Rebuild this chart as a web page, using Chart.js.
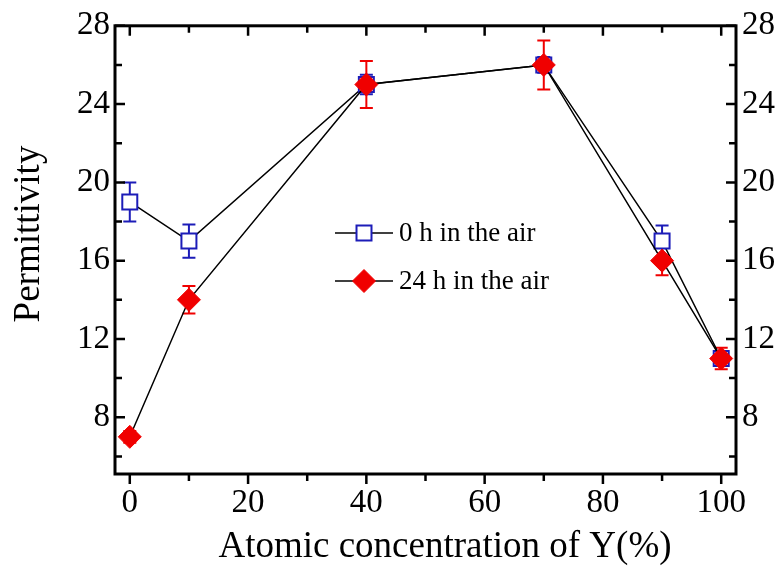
<!DOCTYPE html>
<html>
<head>
<meta charset="utf-8">
<script src="https://cdn.jsdelivr.net/npm/chart.js@4.4.1/dist/chart.umd.min.js"></script>
<style>
  html, body { margin: 0; padding: 0; background: #fff; }
  #wrap { width: 779px; height: 570px; }
</style>
</head>
<body>
<div id="wrap"><canvas id="permChart"></canvas></div>
<script>
// Permittivity vs. Y content, fresh and after 24 h in air
const concentrations = [0, 10, 40, 70, 90, 100];
const perm0h = [19, 17, 25, 26, 17, 11];
const err0h = [1.0, 0.85, 0.5, 0.4, 0.8, 0.35];
const perm24h = [7, 14, 25, 26, 16, 11];
const err24h = [0.3, 0.7, 1.2, 1.25, 0.75, 0.55];
const seriesNames = ['0 h in the air', '24 h in the air'];
const xTicks = [0, 20, 40, 60, 80, 100];
const xMinorTicks = [10, 30, 50, 70, 90];
const yTicks = [8, 12, 16, 20, 24, 28];
const yMinorTicks = [6, 10, 14, 18, 22, 26];
const xTitle = 'Atomic concentration of Y(%)';
const yTitle = 'Permittivity';

const BLUE = '#1c1cb8';
const RED = '#f00000';
const SERIF = '"Liberation Serif", "Times New Roman", serif';

function toPoints(ys) {
    return concentrations.map(function (c, i) { return { x: c, y: ys[i] }; });
}

// error bars, drawn under the markers
const errorBars = {
    id: 'errorBars',
    beforeDatasetsDraw: function (chart) {
        const ctx = chart.ctx;
        const x = chart.scales.x;
        const y = chart.scales.y;
        chart.data.datasets.forEach(function (ds) {
            ctx.save();
            ctx.strokeStyle = ds.borderColorBars;
            ctx.lineWidth = 2;
            ds.data.forEach(function (p, i) {
                const e = ds.errors[i];
                const px = x.getPixelForValue(p.x);
                const top = y.getPixelForValue(p.y + e);
                const bot = y.getPixelForValue(p.y - e);
                ctx.beginPath();
                ctx.moveTo(px, top); ctx.lineTo(px, bot);
                ctx.moveTo(px - 6.5, top); ctx.lineTo(px + 6.5, top);
                ctx.moveTo(px - 6.5, bot); ctx.lineTo(px + 6.5, bot);
                ctx.stroke();
            });
            ctx.restore();
        });
    }
};

// box frame with inward ticks (outward along the bottom), plus axis titles
const frameTicks = {
    id: 'frameTicks',
    afterDraw: function (chart) {
        const ctx = chart.ctx;
        const a = chart.chartArea;
        const x = chart.scales.x;
        const y = chart.scales.y;
        ctx.save();
        ctx.strokeStyle = '#000';
        ctx.lineWidth = 2.5;
        ctx.beginPath();
        xTicks.concat(xMinorTicks).forEach(function (v) {
            const len = xTicks.indexOf(v) >= 0 ? 10 : 7;
            const px = x.getPixelForValue(v);
            ctx.moveTo(px, a.bottom); ctx.lineTo(px, a.bottom + len);
            ctx.moveTo(px, a.top); ctx.lineTo(px, a.top + len);
        });
        yTicks.concat(yMinorTicks).forEach(function (v) {
            const len = yTicks.indexOf(v) >= 0 ? 10 : 7;
            const py = y.getPixelForValue(v);
            ctx.moveTo(a.left, py); ctx.lineTo(a.left + len, py);
            ctx.moveTo(a.right, py); ctx.lineTo(a.right - len, py);
        });
        ctx.stroke();
        ctx.lineWidth = 3;
        ctx.strokeRect(a.left, a.top, a.right - a.left, a.bottom - a.top);

        ctx.fillStyle = '#000';
        ctx.font = '37px ' + SERIF;
        ctx.textAlign = 'center';
        ctx.textBaseline = 'middle';
        ctx.fillText(xTitle, 445, 547);

        ctx.translate(29, 234);
        ctx.rotate(-Math.PI / 2);
        ctx.fillText(yTitle, 0, 0);
        ctx.restore();
    }
};

// legend inside the plot: line - marker - line, then the label
const insideLegend = {
    id: 'insideLegend',
    afterDraw: function (chart) {
        const ctx = chart.ctx;
        const rows = [
            { y: 233, ds: chart.data.datasets[0] },
            { y: 281, ds: chart.data.datasets[1] }
        ];
        ctx.save();
        rows.forEach(function (r) {
            ctx.strokeStyle = '#000';
            ctx.lineWidth = 1.5;
            ctx.beginPath();
            ctx.moveTo(335, r.y); ctx.lineTo(393, r.y);
            ctx.stroke();
            ctx.fillStyle = r.ds.pointBackgroundColor;
            ctx.strokeStyle = r.ds.pointBorderColor;
            ctx.lineWidth = r.ds.pointBorderWidth;
            Chart.helpers.drawPoint(ctx, {
                pointStyle: r.ds.pointStyle,
                radius: r.ds.pointRadius,
                rotation: 0,
                borderWidth: r.ds.pointBorderWidth
            }, 364, r.y);
            ctx.fillStyle = '#000';
            ctx.font = '27px ' + SERIF;
            ctx.textBaseline = 'middle';
            ctx.textAlign = 'left';
            ctx.fillText(r.ds.label, 399, r.y + 1);
        });
        ctx.restore();
    }
};

const ctx = document.getElementById('permChart').getContext('2d');

new Chart(ctx, {
    type: 'line',
    data: {
        datasets: [{
            label: seriesNames[0],
            data: toPoints(perm0h),
            errors: err0h,
            borderColorBars: BLUE,
            borderColor: '#000',
            borderWidth: 1.5,
            pointStyle: 'rect',
            pointRadius: 10.6,
            pointBackgroundColor: '#fff',
            pointBorderColor: BLUE,
            pointBorderWidth: 2,
            order: 2
        }, {
            label: seriesNames[1],
            data: toPoints(perm24h),
            errors: err24h,
            borderColorBars: RED,
            borderColor: '#000',
            borderWidth: 1.5,
            pointStyle: 'rectRot',
            pointRadius: 11.5,
            pointBackgroundColor: RED,
            pointBorderColor: RED,
            pointBorderWidth: 1,
            order: 1
        }]
    },
    options: {
        responsive: true,
        maintainAspectRatio: false,
        animation: false,
        events: [],
        layout: { padding: { top: 17, left: 0, right: 0, bottom: 0 } },
        plugins: {
            legend: { display: false },
            tooltip: { enabled: false }
        },
        scales: {
            x: {
                type: 'linear',
                position: 'bottom',
                min: -2.5,
                max: 102.5,
                afterBuildTicks: function (scale) {
                    scale.ticks = xTicks.map(function (v) { return { value: v }; });
                },
                afterFit: function (scale) { scale.height = 96; },
                grid: { display: false, drawTicks: false },
                border: { display: false },
                ticks: {
                    padding: 10,
                    color: '#000',
                    font: { family: SERIF, size: 33 },
                    maxRotation: 0
                }
            },
            y: {
                type: 'linear',
                position: 'left',
                min: 5.1,
                max: 28,
                afterBuildTicks: function (scale) {
                    scale.ticks = yTicks.map(function (v) { return { value: v }; });
                },
                afterFit: function (scale) { scale.width = 115; },
                grid: { display: false, drawTicks: false },
                border: { display: false },
                ticks: {
                    padding: 5,
                    color: '#000',
                    font: { family: SERIF, size: 33 }
                }
            },
            y2: {
                type: 'linear',
                position: 'right',
                min: 5.1,
                max: 28,
                afterBuildTicks: function (scale) {
                    scale.ticks = yTicks.map(function (v) { return { value: v }; });
                },
                afterFit: function (scale) { scale.width = 43; },
                grid: { display: false, drawTicks: false },
                border: { display: false },
                ticks: {
                    padding: 6,
                    color: '#000',
                    font: { family: SERIF, size: 33 }
                }
            }
        }
    },
    plugins: [errorBars, frameTicks, insideLegend]
});
</script>
</body>
</html>
